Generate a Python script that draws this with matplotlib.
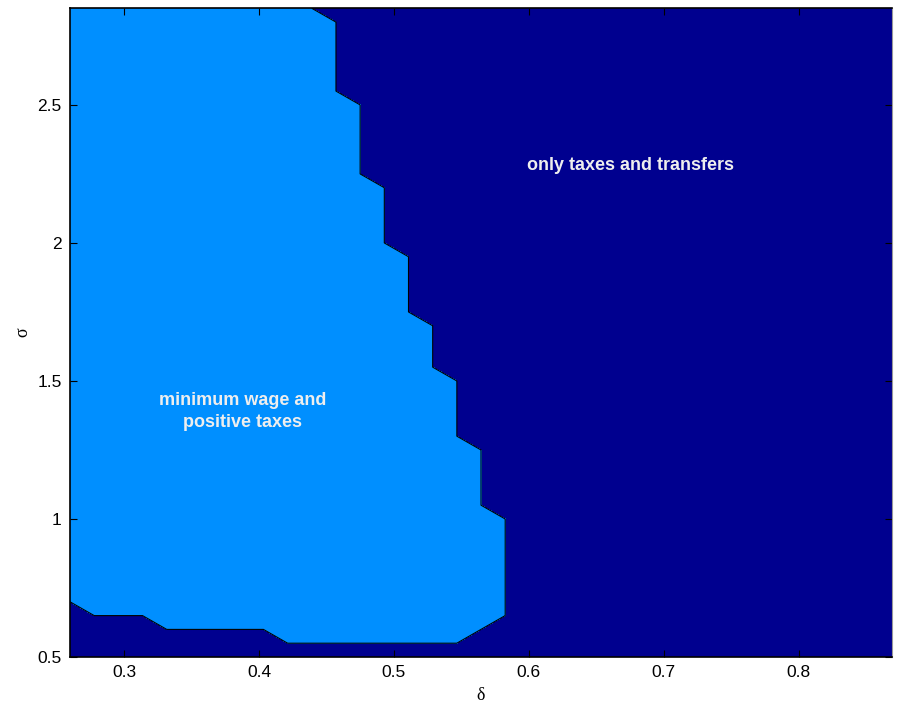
import matplotlib.pyplot as plt
import numpy as np

# grid of the computation (delta on x, sigma on y)
delta = np.linspace(0.26, 0.869, 35)
sigma = np.linspace(0.5, 2.85, 48)

# rows of sigma where the minimum wage regime starts, with its delta range
sigma_start = [0.55, 0.60, 0.65, 0.70, 1.05, 1.30, 1.55, 1.75, 2.00, 2.25, 2.55, 2.85]
delta_lo = [0.421, 0.332, 0.278, 0.260, 0.260, 0.260, 0.260, 0.260, 0.260, 0.260, 0.260, 0.260]
delta_hi = [0.546, 0.564, 0.582, 0.582, 0.564, 0.546, 0.529, 0.511, 0.493, 0.475, 0.457, 0.439]

label_mw = "minimum wage and\npositive taxes"
label_tt = "only taxes and transfers"

light = "#008fff"
dark = "#00008f"

dd = delta[1] - delta[0]
Z = np.zeros((len(sigma), len(delta)))
for j, s in enumerate(sigma):
    k = np.searchsorted(np.array(sigma_start) - 1e-6, s, side="right") - 1
    if k < 0:
        continue
    inside = (delta >= delta_lo[k] - dd / 2) & (delta <= delta_hi[k] + dd / 2)
    Z[j, inside] = 1

D, S = np.meshgrid(delta, sigma)

fig = plt.figure(figsize=(9.03, 7.09), dpi=100)
ax = fig.add_axes([70 / 903, 52 / 709, 822 / 903, 649 / 709])

ax.contourf(D, S, Z, levels=[-0.5, 0.999, 1.5], colors=[dark, light])
ax.contour(D, S, Z, levels=[0.999], colors="k", linewidths=0.8)

ax.set_xlim(0.26, 0.869)
ax.set_ylim(0.5, 2.851)
ax.set_xticks([0.3, 0.4, 0.5, 0.6, 0.7, 0.8])
ax.set_xticklabels(["0.3", "0.4", "0.5", "0.6", "0.7", "0.8"])
ax.set_yticks([0.5, 1, 1.5, 2, 2.5])
ax.set_yticklabels(["0.5", "1", "1.5", "2", "2.5"])
ax.tick_params(direction="in", length=5, width=0.8, top=True, right=True,
               labelsize=12.5, pad=6)
for t in ax.get_xticklabels() + ax.get_yticklabels():
    t.set_family(["Liberation Sans", "DejaVu Sans"])
for side in ["left", "bottom", "top"]:
    ax.spines[side].set_linewidth(1.2)
ax.spines["right"].set_color("#999999")

ax.set_xlabel("δ", fontsize=13, family="Liberation Serif", labelpad=5)
ax.set_ylabel("σ", fontsize=13, family="Liberation Serif", labelpad=4)

ax.text(0.6756, 2.28, label_tt, color="#eeeeee", fontsize=13, fontweight="bold",
        ha="center", va="center", family=["Liberation Sans", "DejaVu Sans"])
ax.text(0.388, 1.39, label_mw, color="#eeeeee", fontsize=13, fontweight="bold",
        ha="center", va="center", linespacing=1.4, family=["Liberation Sans", "DejaVu Sans"])

fig.savefig("out.png", dpi=100)
